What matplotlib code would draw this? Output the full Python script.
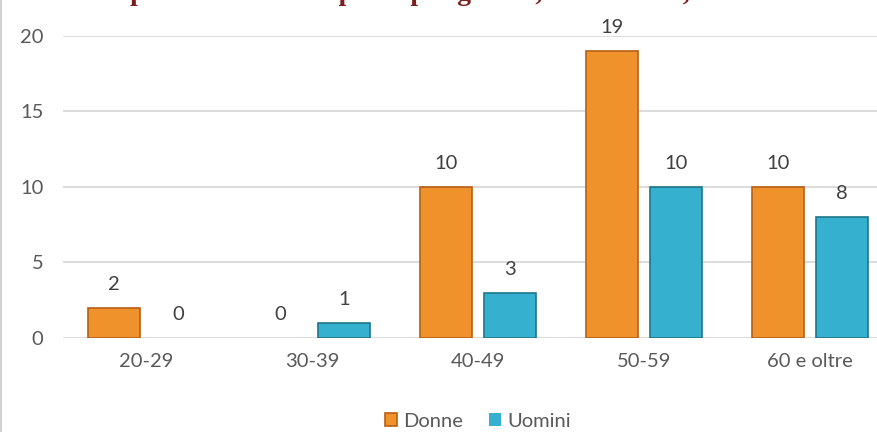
import matplotlib.pyplot as plt
from matplotlib.lines import Line2D
import numpy as np

# dati del grafico
fasce = ['20-29', '30-39', '40-49', '50-59', '60 e oltre']
donne = [2, 0, 10, 19, 10]
uomini = [0, 1, 3, 10, 8]
titolo = "Composizione del campione per genere, fascia d'età, 2019"

plt.rcParams['font.family'] = ['Lato', 'DejaVu Sans']

fig = plt.figure(figsize=(8.77, 4.32), dpi=100)
# bordo sinistro grigio come nell'originale
fig.add_artist(Line2D([0.001, 0.001], [0, 1], color='#D0D0D0', linewidth=1.5))

ax = fig.add_axes([0.0718, 0.2176, 0.9464, 0.6991])

x = np.arange(len(fasce))
off = 0.193
w = 0.313

b1 = ax.bar(x - off, donne, w, color='#F0922B', edgecolor='#B85F16', linewidth=1.2,
            label='Donne', zorder=3)
b2 = ax.bar(x + off, uomini, w, color='#36B0CF', edgecolor='#1F7489', linewidth=1.2,
            label='Uomini', zorder=3)

for bars in (b1, b2):
    for r in bars:
        h = r.get_height()
        if h == 0:
            r.set_linewidth(0)  # niente barra visibile per i valori nulli
        ax.annotate(str(int(h)), (r.get_x() + r.get_width() / 2, h),
                    xytext=(0, 17), textcoords='offset points', ha='center', va='center',
                    fontsize=14.5, color='#404040', annotation_clip=False)

ax.set_xlim(-0.5, len(fasce) - 0.5)
ax.set_ylim(0, 20)
ax.set_yticks([0, 5, 10, 15, 20])
ax.set_xticks(x)
ax.set_xticklabels(fasce)
ax.tick_params(length=0, labelsize=14.5, labelcolor='#595959')
ax.tick_params(axis='x', pad=11)
ax.tick_params(axis='y', pad=14)
ax.grid(axis='y', color='#D9D9D9', linewidth=1.3, zorder=0)
for s in ax.spines.values():
    s.set_visible(False)

ax.legend(loc='center', bbox_to_anchor=(0.5, -0.275), ncol=2, frameon=False,
          fontsize=14.5, labelcolor='#595959', handlelength=0.6, handleheight=0.6,
          handletextpad=0.3, columnspacing=1.3)

# titolo tagliato in alto come nell'immagine di partenza
fig.text(0.47, 1.0, titolo, ha='center', va='baseline', fontsize=20,
         fontweight='bold', color='#7A1F1F', family='Liberation Serif')

fig.savefig('out.png', dpi=100)
